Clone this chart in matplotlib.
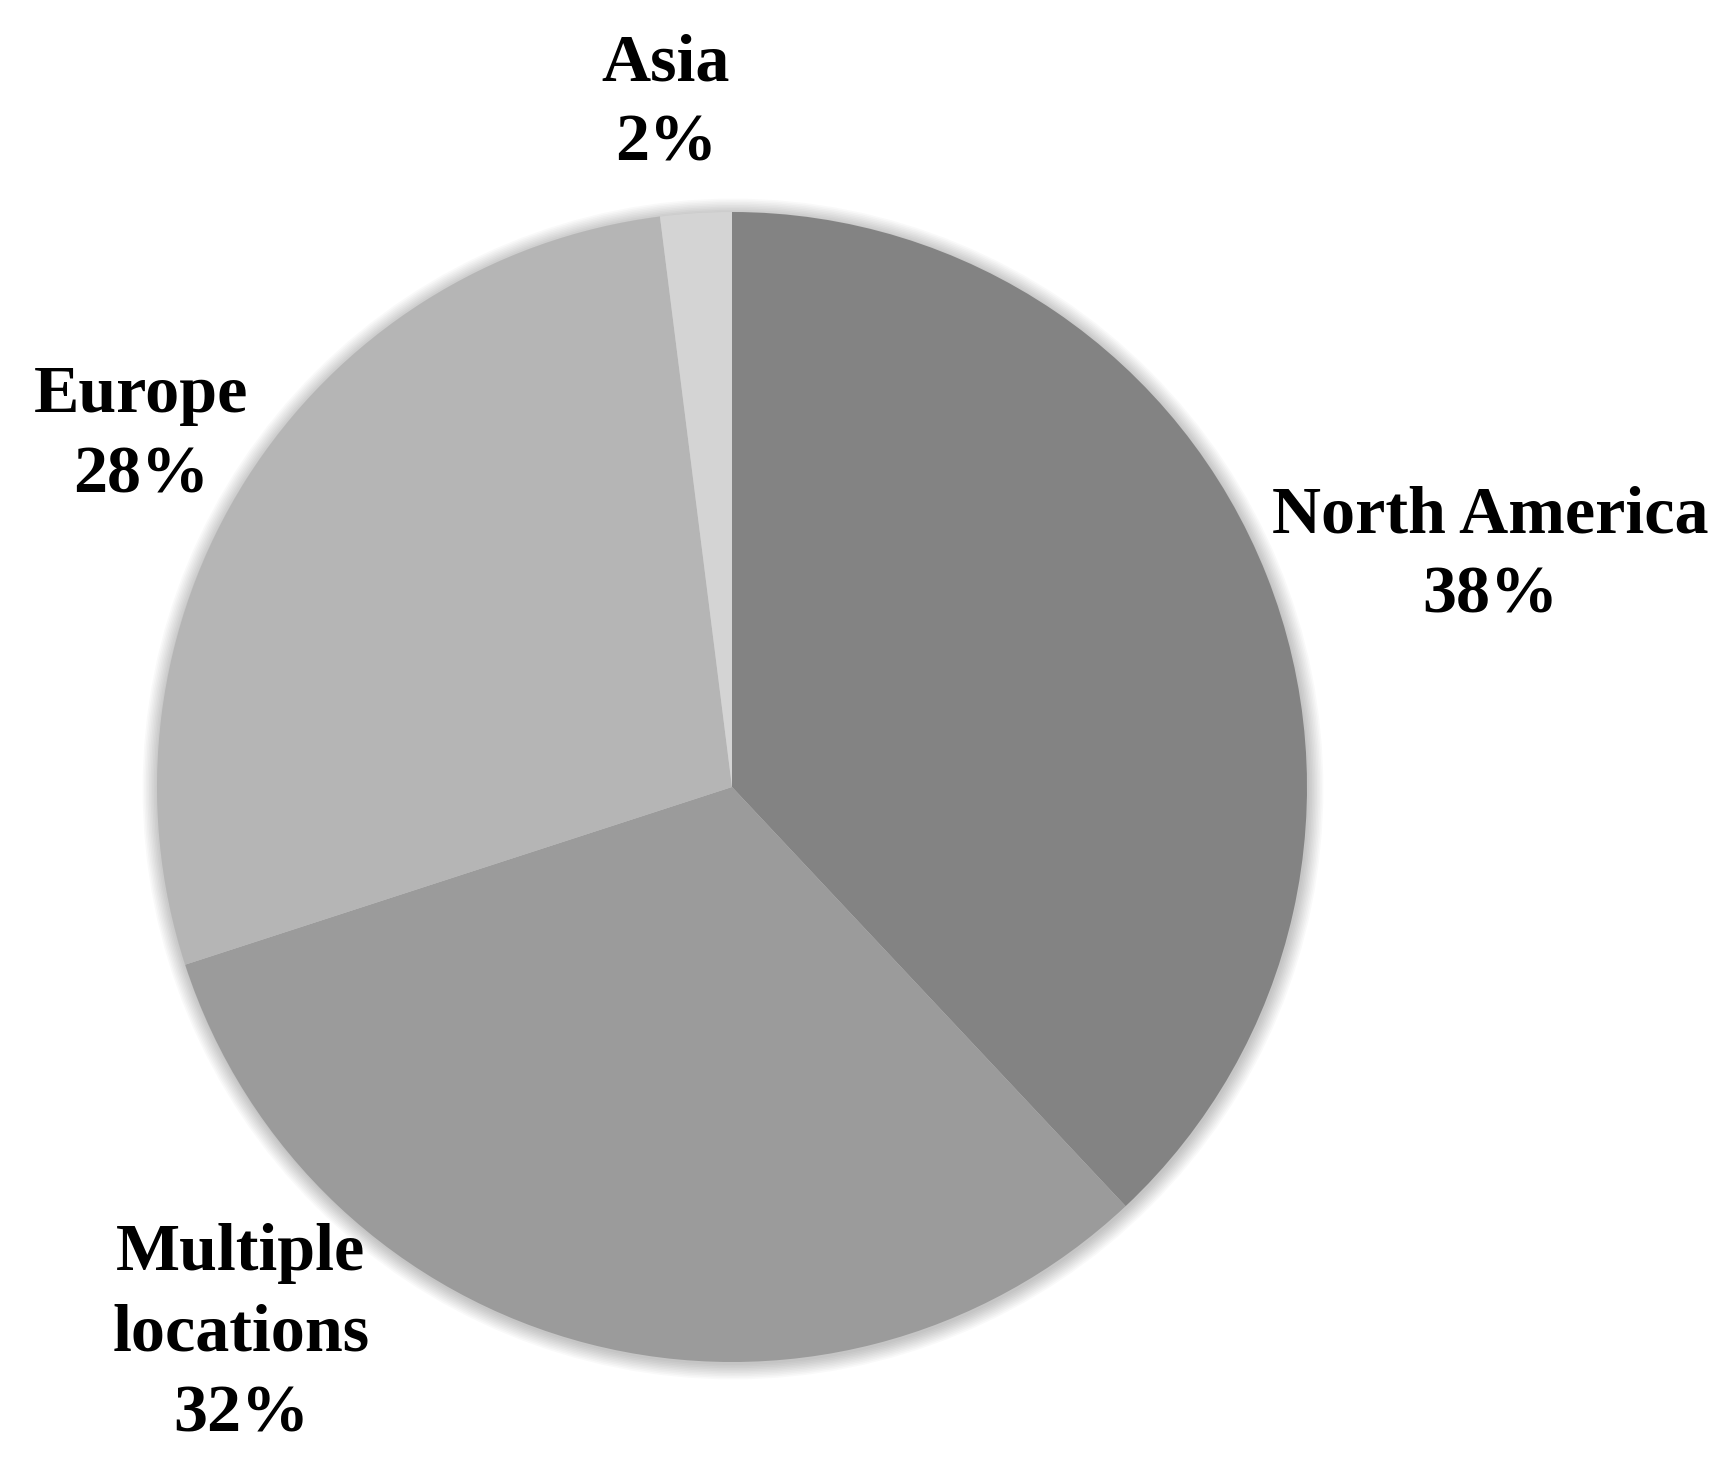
import matplotlib.pyplot as plt
from matplotlib.patches import Circle

# data
regions = ["North America", "Multiple\nlocations", "Europe", "Asia"]
shares = [38, 32, 28, 2]
colors = ["#838383", "#9b9b9b", "#b5b5b5", "#d4d4d4"]

# label spots in pixel coords (y from top), one per region
label_xy = [(1490, 556), (241, 1334), (141, 436), (666, 104)]

W, H = 1733, 1471
fig = plt.figure(figsize=(W / 100, H / 100), dpi=100)
ax = fig.add_axes([0, 0, 1, 1])

cx, cy, r = 732, H - 787, 575

# soft shadow round the pie
for k in range(10):
    ax.add_patch(Circle((cx + 1, cy - 2), r + 1 + k * 1.6, color="#000000",
                        alpha=0.022, lw=0, zorder=0))

ax.pie(shares, colors=colors, startangle=90, counterclock=False,
       center=(cx, cy), radius=r, frame=True,
       wedgeprops=dict(linewidth=0), normalize=True)
ax.set_xlim(0, W)
ax.set_ylim(0, H)
ax.set_aspect("equal")
ax.axis("off")

for name, val, (x, y) in zip(regions, shares, label_xy):
    ax.text(x, H - y, name + "\n" + str(val) + "%", ha="center", va="center",
            fontsize=49, fontweight="bold", family="Liberation Serif",
            linespacing=1.42, color="black")

plt.savefig("out.png", dpi=100)
plt.close()
